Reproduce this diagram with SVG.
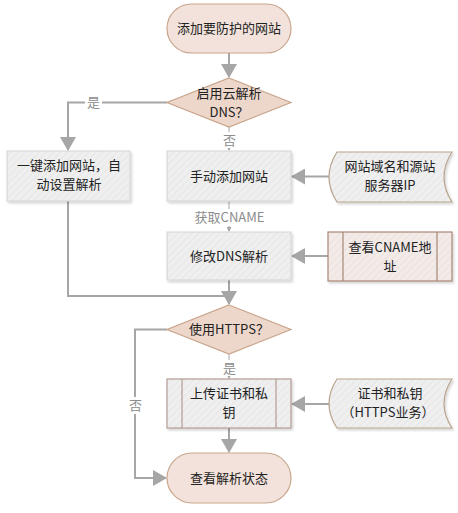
<svg xmlns="http://www.w3.org/2000/svg" width="458" height="513" viewBox="0 0 458 513">
<defs>
<pattern id="hg" width="5" height="5" patternUnits="userSpaceOnUse" patternTransform="rotate(45)">
<rect width="5" height="5" fill="#EFEFEF"/>
<line x1="0" y1="0" x2="0" y2="5" stroke="#E3E3E3" stroke-width="1.5"/>
</pattern>
<pattern id="hp" width="5" height="5" patternUnits="userSpaceOnUse" patternTransform="rotate(45)">
<rect width="5" height="5" fill="#F2EBE8"/>
<line x1="0" y1="0" x2="0" y2="5" stroke="#E9DFDB" stroke-width="1.5"/>
</pattern>
<filter id="sh" x="-10%" y="-10%" width="125%" height="130%">
<feDropShadow dx="1.5" dy="2" stdDeviation="1.2" flood-color="#000" flood-opacity="0.16"/>
</filter>
<marker id="ab" markerUnits="userSpaceOnUse" markerWidth="14" markerHeight="16" refX="13" refY="8" orient="auto">
<path d="M0,0 L14,8 L0,16 Z" fill="#A6A6A6"/>
</marker>
<marker id="as" markerUnits="userSpaceOnUse" markerWidth="5" markerHeight="5" refX="4" refY="2.5" orient="auto">
<path d="M0,0 L5,2.5 L0,5 Z" fill="#A6A6A6"/>
</marker>
</defs>
<style>
text{font-family:"Noto Sans CJK SC","Liberation Sans",sans-serif;font-size:13px;fill:#222;text-anchor:middle}
.lbl{fill:#8C8C8C}
.term{fill:#F2E2DB;stroke:#C9A68C;stroke-width:1.2}
.dia{fill:#EDD6CA;stroke:#C9A68C;stroke-width:1.2}
.box{fill:url(#hg);stroke:#D3D3D3;stroke-width:1}
.store{fill:url(#hg);stroke:#B8A48C;stroke-width:1.2}
.pre{fill:url(#hp);stroke:#A88676;stroke-width:1.2}
.pre2{fill:url(#hg);stroke:#B29C92;stroke-width:1.2}
.big{fill:none;stroke:#A6A6A6;stroke-width:2}
.thin{fill:none;stroke:#A6A6A6;stroke-width:1}
.bg{fill:#FFFFFF}
</style>
<g id="connectors">
<path class="big" d="M229,53 V77" marker-end="url(#ab)"/>
<path class="big" d="M167,102.5 H68 V150" marker-end="url(#ab)"/>
<path class="thin" d="M229,127 V150" marker-end="url(#as)"/>
<path class="big" d="M329,176.5 H292" marker-end="url(#ab)"/>
<path class="thin" d="M229,201 V231" marker-end="url(#as)"/>
<path class="big" d="M328,256 H292" marker-end="url(#ab)"/>
<path class="big" d="M68,201 V296 H229"/>
<path class="big" d="M229,280 V304" marker-end="url(#ab)"/>
<path class="big" d="M167,329.5 H135 V478 H166" marker-end="url(#ab)"/>
<path class="thin" d="M229,354 V378" marker-end="url(#as)"/>
<path class="big" d="M329,404 H292" marker-end="url(#ab)"/>
<path class="big" d="M229,428 V452" marker-end="url(#ab)"/>
<rect class="bg" x="85" y="94" width="17" height="17"/>
<text class="lbl" x="93.5" y="107">是</text>
<rect class="bg" x="221" y="132" width="17" height="16"/>
<text class="lbl" x="229.5" y="145">否</text>
<rect class="bg" x="194" y="209" width="72" height="17"/>
<text class="lbl" x="229.5" y="222">获取CNAME</text>
<rect class="bg" x="221" y="360" width="17" height="16"/>
<text class="lbl" x="229.5" y="373">是</text>
<rect class="bg" x="127" y="397" width="17" height="17"/>
<text class="lbl" x="135.5" y="410">否</text>
</g>
<g id="start">
<rect class="term" x="167" y="4" width="124" height="49" rx="24.5"/>
<text x="229" y="33">添加要防护的网站</text>
</g>
<g id="dns-decision">
<polygon class="dia" points="229,78 291,102.5 229,127 167,102.5"/>
<text x="229" y="98">启用云解析</text>
<text x="229" y="117">DNS？</text>
</g>
<g id="auto-add">
<rect class="box" x="7" y="151" width="123" height="50" filter="url(#sh)"/>
<text x="69" y="170">一键添加网站，自</text>
<text x="69" y="189">动设置解析</text>
</g>
<g id="manual-add">
<rect class="box" x="167" y="151" width="124" height="50" filter="url(#sh)"/>
<text x="229" y="181">手动添加网站</text>
</g>
<g id="domain-ip">
<path class="store" d="M337,152 H452 Q436,177 452,202 H337 Q321,177 337,152 Z" filter="url(#sh)"/>
<text x="390" y="171">网站域名和源站</text>
<text x="390" y="190">服务器IP</text>
</g>
<g id="modify-dns">
<rect class="box" x="167" y="232" width="124" height="48" filter="url(#sh)"/>
<text x="229" y="261">修改DNS解析</text>
</g>
<g id="view-cname">
<rect class="pre" x="328" y="232" width="124" height="49" filter="url(#sh)"/>
<line x1="343" y1="232" x2="343" y2="281" stroke="#A88676" stroke-width="1.2"/>
<line x1="437" y1="232" x2="437" y2="281" stroke="#A88676" stroke-width="1.2"/>
<text x="390" y="252">查看CNAME地</text>
<text x="390" y="271">址</text>
</g>
<g id="https-decision">
<polygon class="dia" points="229,305 291,329.5 229,354 167,329.5"/>
<text x="229" y="334">使用HTTPS？</text>
</g>
<g id="upload-cert">
<rect class="pre2" x="167" y="379" width="124" height="49" filter="url(#sh)"/>
<line x1="182" y1="379" x2="182" y2="428" stroke="#B29C92" stroke-width="1.2"/>
<line x1="276" y1="379" x2="276" y2="428" stroke="#B29C92" stroke-width="1.2"/>
<text x="229" y="398">上传证书和私</text>
<text x="229" y="417">钥</text>
</g>
<g id="cert-key">
<path class="store" d="M337,379 H452 Q436,403.5 452,428 H337 Q321,403.5 337,379 Z" filter="url(#sh)"/>
<text x="390" y="398">证书和私钥</text>
<text x="388" y="417">（HTTPS业务）</text>
</g>
<g id="end">
<rect class="term" x="167" y="453" width="124" height="50" rx="25"/>
<text x="229" y="483">查看解析状态</text>
</g>
</svg>
